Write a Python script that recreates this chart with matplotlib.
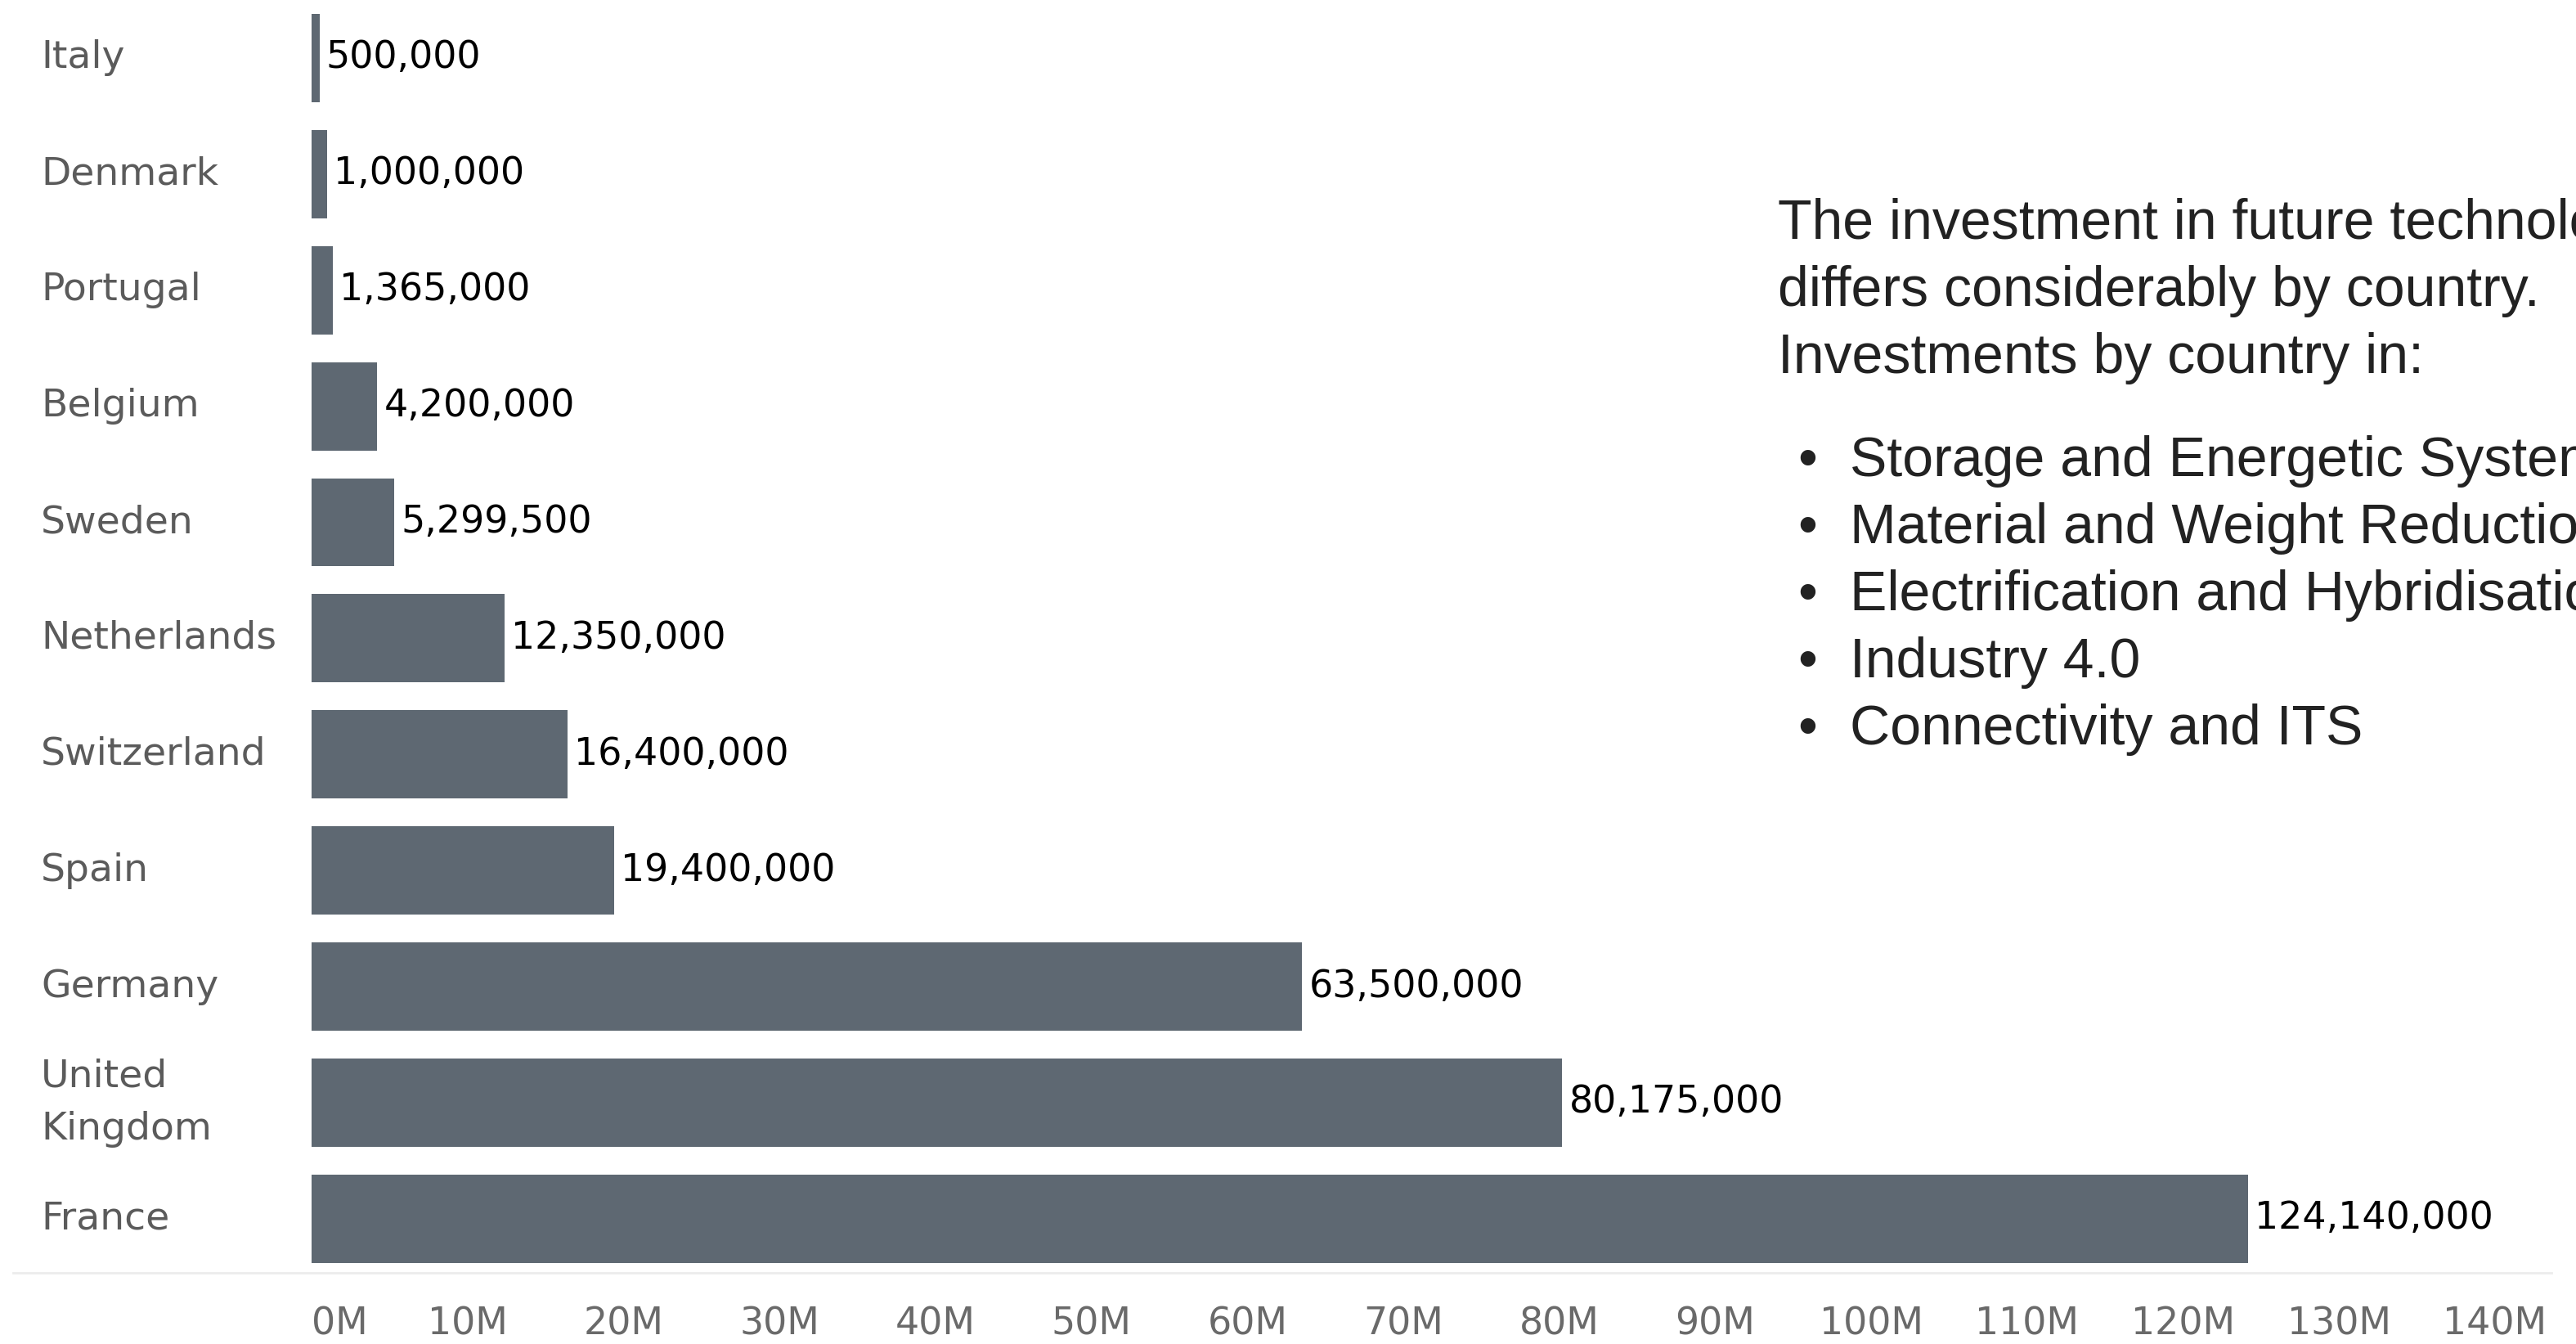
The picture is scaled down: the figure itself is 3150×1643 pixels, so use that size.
import matplotlib
matplotlib.use("Agg")
import matplotlib.pyplot as plt
from matplotlib.lines import Line2D
from matplotlib.ticker import FixedLocator, FuncFormatter
from matplotlib.transforms import blended_transform_factory

countries = ["Italy", "Denmark", "Portugal", "Belgium", "Sweden", "Netherlands",
             "Switzerland", "Spain", "Germany", "United\nKingdom", "France"]
investment = [500000, 1000000, 1365000, 4200000, 5299500, 12350000,
              16400000, 19400000, 63500000, 80175000, 124140000]
tick_values = [0, 10e6, 20e6, 30e6, 40e6, 50e6, 60e6, 70e6, 80e6, 90e6,
               100e6, 110e6, 120e6, 130e6, 140e6]

intro_lines = ["The investment in future technologies",
               "differs considerably by country.",
               "Investments by country in:"]
topics = ["Storage and Energetic Systems",
          "Material and Weight Reduction",
          "Electrification and Hybridisation",
          "Industry 4.0",
          "Connectivity and ITS"]

BAR = "#5e6872"
LABEL_GREY = "#5b5b5b"
TICK_GREY = "#6a6a6a"

W, H = 3150, 1643
fig = plt.figure(figsize=(W / 100, H / 100), dpi=100)
ax = fig.add_axes([381 / W, 1 - 1558 / H, (3133 - 381) / W, 1558 / H])

ypos = list(range(len(countries)))
ax.barh(ypos, investment, height=0.76, color=BAR)
ax.set_ylim(10.48, -0.50)
ax.set_xlim(0, 144.3e6)

for y, v in zip(ypos, investment):
    ax.annotate(f"{v:,}", (v, y), xytext=(6, 0), textcoords="offset points",
                va="center", ha="left", fontsize=33, color="black",
                family="DejaVu Sans")

# country names sit flush left in the header column
label_tf = blended_transform_factory(fig.transFigure, ax.transData)
for y, name in zip(ypos, countries):
    ax.text(50 / W, y, name, transform=label_tf, fontsize=34,
            color=LABEL_GREY, va="center", ha="left", linespacing=1.55,
            family="DejaVu Sans")

ax.xaxis.set_major_locator(FixedLocator(tick_values))
ax.xaxis.set_major_formatter(FuncFormatter(lambda v, p: f"{v / 1e6:.0f}M"))
ax.tick_params(axis="x", length=0, pad=28, labelsize=33, labelcolor=TICK_GREY)
ax.tick_params(axis="y", left=False, labelleft=False)
for lab in ax.get_xticklabels():
    lab.set_family("DejaVu Sans")
ax.get_xticklabels()[0].set_horizontalalignment("left")

for s in ax.spines.values():
    s.set_visible(False)

fig.add_artist(Line2D([16 / W, 3120 / W], [1 - 1556 / H] * 2,
                      transform=fig.transFigure, color="#ececec", lw=2))

# annotation text block on the right
text_kw = dict(fontsize=49, color="#222222", family="Liberation Sans", va="center")
for i, line in enumerate(intro_lines):
    fig.text(2174 / W, 1 - (274 + 82 * i) / H, line, **text_kw)
for i, line in enumerate(topics):
    yy = 1 - (564 + 82 * i) / H
    fig.text(2210 / W, yy, "\u2022", ha="center", **text_kw)
    fig.text(2262 / W, yy, line, **text_kw)

fig.savefig("out.png", dpi=100, facecolor="white")
